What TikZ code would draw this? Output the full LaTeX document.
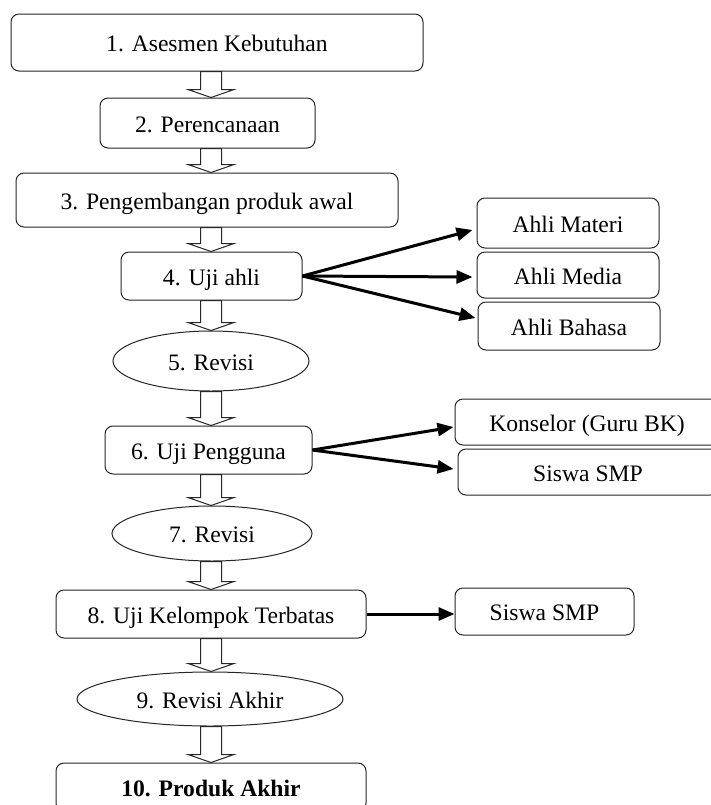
\documentclass[tikz,border=0pt]{standalone}
\usepackage{fontspec}
\setmainfont{Liberation Serif}
\usetikzlibrary{shapes.geometric,arrows.meta,calc}
\begin{document}
\begin{tikzpicture}[x=0.5pt,y=0.5pt,
  every node/.style={font=\fontsize{11.8}{14}\selectfont, inner sep=0pt, text height=9pt, text depth=0pt},
  rbox/.style={draw=black!85, line width=0.5pt, rounded corners=4pt, fill=white},
  oval/.style={draw=black!85, line width=0.5pt, ellipse, fill=white},
  blk/.style={draw=black!85, line width=0.5pt, fill=white, line join=miter},
  conn/.style={draw=black, line width=1.5pt, -{Triangle[length=8pt,width=6.5pt]}}]
\useasboundingbox (0,0) rectangle (711,-805);
\clip (0,0) rectangle (711,-805);
\newcommand\flowarrow[2]{\draw[blk] let \p1=(#1.south), \p2=(#2.north) in
  (100.25pt,\y1) -- (110.75pt,\y1) -- (110.75pt,{\y2+4pt}) -- (117pt,{\y2+4pt}) -- (105.5pt,\y2) -- (94pt,{\y2+4pt}) -- (100.25pt,{\y2+4pt}) -- cycle;}
% main column
\node[rbox, minimum width=206pt, minimum height=28.5pt] (n1) at (217,-42.5) {1. Asesmen Kebutuhan};
\node[rbox, minimum width=107.5pt, minimum height=25pt] (n2) at (207.5,-123) {2. Perencanaan};
\node[rbox, minimum width=191pt, minimum height=27pt] (n3) at (207,-200) {3. Pengembangan produk awal};
\node[rbox, minimum width=90.5pt, minimum height=24pt] (n4) at (211.5,-276) {4. Uji ahli};
\node[oval, minimum width=98pt, minimum height=30pt] (n5) at (211,-361) {5. Revisi};
\node[rbox, minimum width=103.5pt, minimum height=24pt] (n6) at (208.5,-450) {6. Uji Pengguna};
\node[oval, minimum width=100pt, minimum height=27.5pt] (n7) at (212,-533.5) {7. Revisi};
\node[rbox, minimum width=155pt, minimum height=24pt] (n8) at (211,-614) {8. Uji Kelompok Terbatas};
\node[oval, minimum width=133pt, minimum height=27pt] (n9) at (210,-699) {9. Revisi Akhir};
\node[rbox, minimum width=155pt, minimum height=24pt] (n10) at (211,-787) {\textbf{10. Produk Akhir}};
% side boxes
\node[rbox, minimum width=91pt, minimum height=25pt] (materi) at (568,-223) {Ahli Materi};
\node[rbox, minimum width=91pt, minimum height=23pt] (media) at (568,-275) {Ahli Media};
\node[rbox, minimum width=91pt, minimum height=24pt] (bahasa) at (569,-326) {Ahli Bahasa};
\node[rbox, minimum width=132pt, minimum height=23pt] (konselor) at (587,-422) {Konselor (Guru BK)};
\node[rbox, minimum width=130pt, minimum height=23pt] (siswaA) at (588,-472) {Siswa SMP};
\node[rbox, minimum width=89.5pt, minimum height=23.5pt] (siswaB) at (544.5,-611.5) {Siswa SMP};
% block arrows
\flowarrow{n1}{n2}
\flowarrow{n2}{n3}
\flowarrow{n3}{n4}
\flowarrow{n4}{n5}
\flowarrow{n5}{n6}
\flowarrow{n6}{n7}
\flowarrow{n7}{n8}
\flowarrow{n8}{n9}
\flowarrow{n9}{n10}
% connectors
\draw[conn] (n4.east) -- ([xshift=-2pt,yshift=-3.5pt]materi.west);
\draw[conn] (n4.east) -- ([xshift=-2pt,yshift=-1pt]media.west);
\draw[conn] (n4.east) -- ([xshift=-1pt,yshift=4pt]bahasa.west);
\draw[conn] (n6.east) -- ([xshift=-0.5pt,yshift=-2.5pt]konselor.west);
\draw[conn] (n6.east) -- ([xshift=-2pt,yshift=1.5pt]siswaA.west);
\draw[conn] (n8.east) -- (n8.east -| siswaB.west);
\end{tikzpicture}
\end{document}
